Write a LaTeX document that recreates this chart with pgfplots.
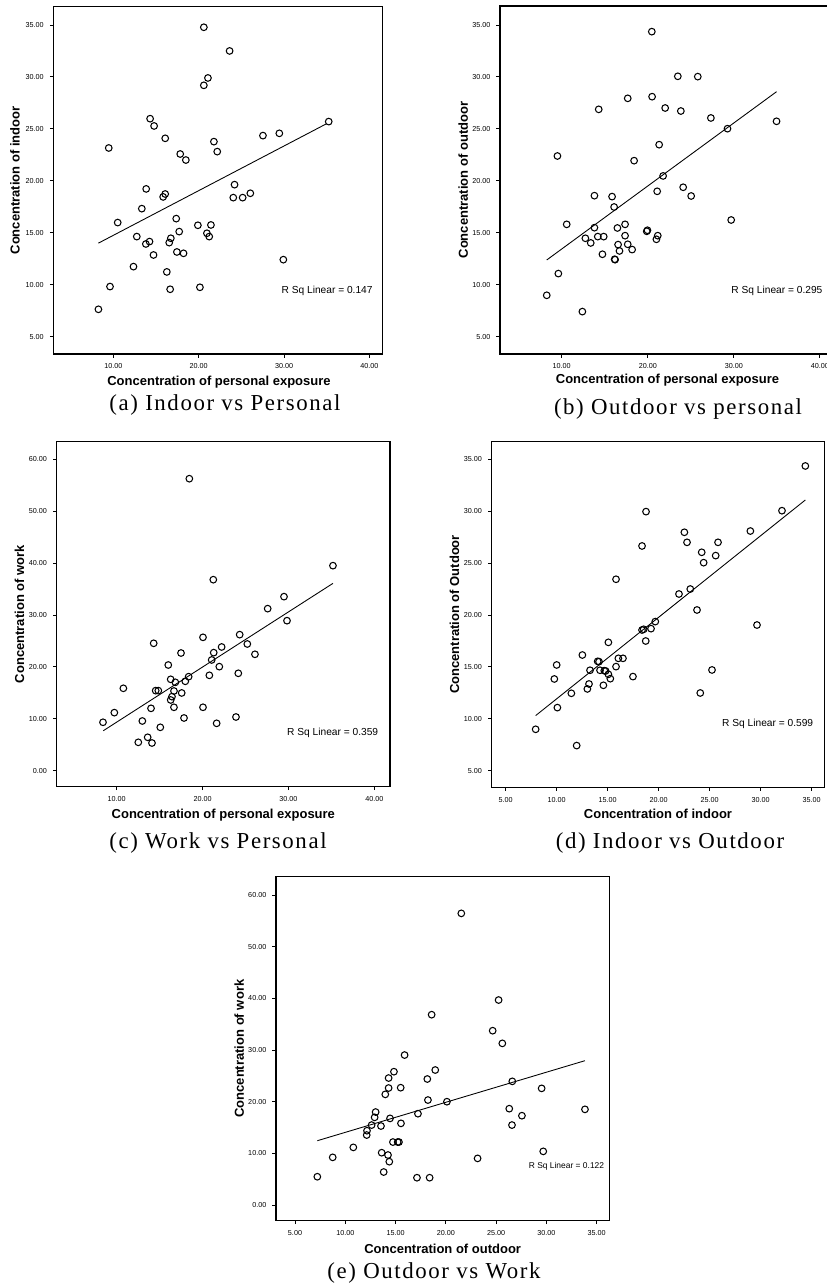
\documentclass[border=0pt]{standalone}
\usepackage{fontspec}
\setmainfont{Liberation Serif}
\setsansfont{Liberation Sans}
\newfontfamily\capfont[LetterSpace=7]{Liberation Serif}
\usepackage{pgfplots}
\usepackage{pgfplotstable}
\pgfplotsset{compat=1.18}

% panel (a): personal vs indoor
\pgfplotstableread{
x y
8.24 7.63
9.60 9.82
9.45 23.16
10.50 15.98
12.35 11.74
12.74 14.63
13.33 17.32
13.80 13.92
14.23 14.15
13.84 19.22
14.30 25.98
14.77 25.28
14.70 12.86
16.07 24.09
16.07 18.73
15.83 18.45
16.26 11.23
16.65 9.56
16.54 14.05
16.73 14.47
17.36 16.36
17.44 13.15
17.71 15.11
18.22 13.02
17.83 22.58
18.49 22.00
19.90 15.72
20.14 9.75
20.60 34.78
20.60 29.19
21.08 29.90
20.96 14.95
21.23 14.63
21.43 15.75
21.78 23.77
22.17 22.81
23.62 32.50
24.20 19.63
24.05 18.38
25.15 18.38
26.05 18.80
27.53 24.35
29.45 24.57
29.92 12.41
35.24 25.70
}\tabA

% panel (b): personal vs outdoor
\pgfplotstableread{
x y
8.26 8.98
9.61 11.07
9.50 22.39
10.58 15.81
12.40 7.41
12.75 14.47
13.37 14.02
13.80 18.57
13.80 15.49
14.19 14.63
14.30 26.88
14.88 14.63
14.73 12.93
15.85 18.48
16.09 17.48
16.20 12.41
16.15 12.45
16.47 15.46
16.55 13.86
16.71 13.25
17.36 15.81
17.36 14.72
17.67 13.89
18.18 13.38
17.67 27.94
18.41 21.94
19.88 15.14
19.96 15.24
20.47 34.36
20.50 28.10
21.00 14.37
21.16 14.72
21.09 18.99
21.32 23.48
21.78 20.47
22.02 27.01
23.49 30.06
23.84 26.72
24.11 19.38
25.04 18.54
25.81 30.03
27.33 26.05
29.26 25.02
29.69 16.23
34.96 25.73
}\tabB

% panel (c): personal vs work
\pgfplotstableread{
x y
8.41 9.33
9.73 11.19
10.78 15.88
12.52 5.47
12.99 9.58
13.61 6.44
14.00 12.02
14.11 5.34
14.31 24.55
14.54 15.43
14.85 15.43
15.08 8.36
16.01 20.37
16.29 17.61
16.29 13.63
16.44 14.27
16.67 12.22
16.67 15.36
16.83 17.03
17.49 22.68
17.57 14.98
17.84 10.16
17.99 17.23
18.38 18.12
18.46 56.27
20.05 25.70
20.05 12.22
20.79 18.38
21.06 21.34
21.30 22.75
21.25 36.81
21.64 9.13
21.95 20.05
22.22 23.84
23.89 10.35
24.16 18.77
24.32 26.22
25.21 24.42
26.10 22.43
27.58 31.23
29.48 33.54
29.83 28.91
35.18 39.51
}\tabC

% panel (d): indoor vs outdoor
\pgfplotstableread{
x y
7.94 8.98
9.77 13.83
10.00 15.18
10.07 11.07
11.44 12.45
11.96 7.41
12.52 16.14
13.01 12.87
13.17 13.35
13.27 14.67
14.02 15.53
14.15 15.50
14.25 14.67
14.58 13.22
14.67 14.63
14.80 14.60
15.07 14.28
15.07 17.36
15.26 13.86
15.82 23.44
15.82 15.02
16.05 15.82
16.50 15.82
17.48 14.06
18.37 26.65
18.37 18.55
18.53 18.62
18.73 17.49
18.76 29.96
19.25 18.68
19.67 19.36
21.99 22.02
22.52 27.97
22.78 27.00
23.10 22.50
23.76 20.48
24.08 12.48
24.22 26.04
24.41 25.04
25.23 14.70
25.59 25.72
25.82 27.00
28.99 28.09
29.64 19.03
32.09 30.05
34.38 34.36
}\tabD

% panel (e): outdoor vs work
\pgfplotstableread{
x y
7.22 5.48
8.75 9.23
10.80 11.16
12.13 13.55
12.16 14.39
12.62 15.48
12.92 16.97
13.02 18.00
13.55 15.29
13.62 10.13
13.82 6.39
13.98 21.42
14.25 9.68
14.38 8.39
14.31 22.65
14.31 24.58
14.45 16.77
14.74 12.19
14.84 25.81
15.21 12.19
15.34 12.19
15.51 22.71
15.54 15.81
15.90 29.03
17.13 5.29
17.23 17.68
18.16 24.39
18.22 20.32
18.39 5.29
18.59 36.84
18.95 26.13
20.11 20.00
21.54 56.45
23.16 9.03
24.66 33.74
25.25 39.68
25.62 31.29
26.31 18.65
26.61 23.94
26.58 15.48
27.57 17.29
29.53 22.58
29.69 10.39
33.84 18.52
}\tabE

\pgfplotsset{
  spss/.style={
    scale only axis,
    anchor=south west,
    axis line style={line width=0.8pt},
    tick align=outside,
    xtick pos=left, ytick pos=left,
    major tick length=2pt,
    tick style={line width=0.5pt, black},
    /pgf/number format/assume math mode=true,
    ticklabel style={font=\sffamily\fontsize{4.1}{5}\selectfont},
    xticklabel style={/pgf/number format/.cd, fixed, fixed zerofill, precision=2},
    yticklabel style={/pgf/number format/.cd, fixed, fixed zerofill, precision=2},
    label style={font=\sffamily\bfseries\fontsize{7.4}{9}\selectfont},
  },
  pts/.style={only marks, mark=o, mark size=1.9pt, mark options={line width=0.6pt, black}},
  fit/.style={no marks, line width=0.5pt, black},
}

\begin{document}
\begin{tikzpicture}
\useasboundingbox (0,0) rectangle (16.54,25.74);
\clip (0,0) rectangle (16.54,25.74);

% (a)
\begin{axis}[spss, at={(1.066cm,18.66cm)}, width=6.588cm, height=6.946cm,
  xmin=2.95, xmax=41.57, ymin=3.33, ymax=36.76,
  xtick={10,20,30,40}, ytick={5,10,...,35},
  xlabel={Concentration of personal exposure}, ylabel={Concentration of indoor},
  xlabel style={at={(axis description cs:0.503,-0.081)}, anchor=center},
  ylabel style={at={(axis description cs:-0.116,0.5)}, anchor=center}]
\addplot[pts] table {\tabA};
\addplot[fit] coordinates {(8.24,14.0) (35.0,25.5)};
\node[font=\sffamily\fontsize{5.8}{7}\selectfont] at (axis cs:35.05,9.43) {R Sq Linear = 0.147};
\end{axis}

% (b)
\begin{axis}[spss, at={(10.0cm,18.66cm)}, width=6.674cm, height=6.96cm,
  xmin=2.83, xmax=41.6, ymin=3.33, ymax=36.83,
  xtick={10,20,30,40}, ytick={5,10,...,35},
  xlabel={Concentration of personal exposure}, ylabel={Concentration of outdoor},
  xlabel style={at={(axis description cs:0.502,-0.075)}, anchor=center},
  ylabel style={at={(axis description cs:-0.110,0.5)}, anchor=center}]
\addplot[pts] table {\tabB};
\addplot[fit] coordinates {(8.26,12.38) (34.96,28.58)};
\node[font=\sffamily\fontsize{5.8}{7}\selectfont] at (axis cs:35.0,9.43) {R Sq Linear = 0.295};
\end{axis}

% (c)
\begin{axis}[spss, at={(1.134cm,10.006cm)}, width=6.666cm, height=6.9cm,
  xmin=3.02, xmax=41.82, ymin=-3.08, ymax=63.4,
  xtick={10,20,30,40}, ytick={0,10,...,60},
  xlabel={Concentration of personal exposure}, ylabel={Concentration of work},
  xlabel style={at={(axis description cs:0.5,-0.082)}, anchor=center},
  ylabel style={at={(axis description cs:-0.112,0.5)}, anchor=center}]
\addplot[pts] table {\tabC};
\addplot[fit] coordinates {(8.44,7.7) (35.18,36.1)};
\node[font=\sffamily\fontsize{5.8}{7}\selectfont] at (axis cs:35.15,7.2) {R Sq Linear = 0.359};
\end{axis}

% (d)
\begin{axis}[spss, at={(9.834cm,9.994cm)}, width=6.652cm, height=6.912cm,
  xmin=3.63, xmax=36.24, ymin=3.39, ymax=36.7,
  xtick={5,10,...,35}, ytick={5,10,...,35},
  xlabel={Concentration of indoor}, ylabel={Concentration of Outdoor},
  xlabel style={at={(axis description cs:0.5,-0.077)}, anchor=center},
  ylabel style={at={(axis description cs:-0.112,0.5)}, anchor=center}]
\addplot[pts] table {\tabD};
\addplot[fit] coordinates {(7.94,10.3) (34.38,31.08)};
\node[font=\sffamily\fontsize{5.8}{7}\selectfont] at (axis cs:30.69,9.5) {R Sq Linear = 0.599};
\end{axis}

% (e)
\begin{axis}[spss, at={(5.52cm,1.326cm)}, width=6.666cm, height=6.88cm,
  xmin=3.11, xmax=36.26, ymin=-3.03, ymax=63.55,
  xtick={5,10,...,35}, ytick={0,10,...,60},
  xlabel={Concentration of outdoor}, ylabel={Concentration of work},
  xlabel style={at={(axis description cs:0.5,-0.082)}, anchor=center},
  ylabel style={at={(axis description cs:-0.110,0.5)}, anchor=center}]
\addplot[pts] table {\tabE};
\addplot[fit] coordinates {(7.22,12.45) (33.84,27.94)};
\node[font=\sffamily\fontsize{4.8}{6}\selectfont] at (axis cs:32.0,7.42) {R Sq Linear = 0.122};
\end{axis}

% captions
\node[font=\capfont\fontsize{13}{15}\selectfont] at (4.5,17.64) {(a) Indoor vs Personal};
\node[font=\capfont\fontsize{13}{15}\selectfont] at (13.56,17.56) {(b) Outdoor vs personal};
\node[font=\capfont\fontsize{13}{15}\selectfont] at (4.36,8.88) {(c) Work vs Personal};
\node[font=\capfont\fontsize{13}{15}\selectfont] at (13.4,8.88) {(d) Indoor vs Outdoor};
\node[font=\capfont\fontsize{13}{15}\selectfont] at (8.68,0.28) {(e) Outdoor vs Work};
\end{tikzpicture}
\end{document}
